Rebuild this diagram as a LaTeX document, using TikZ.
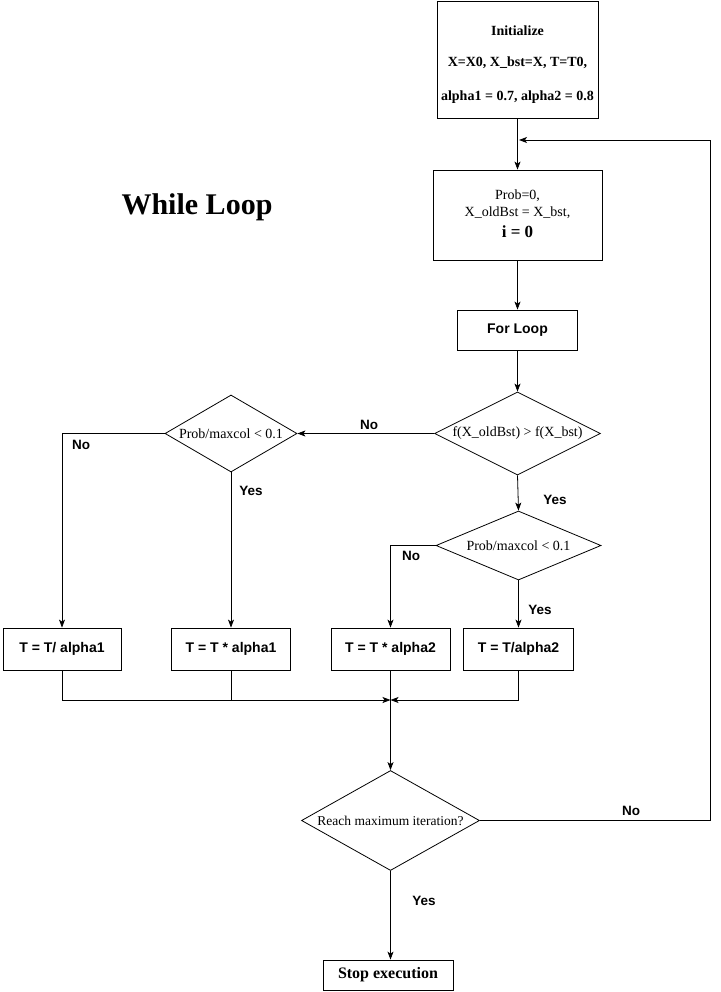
\documentclass[tikz,border=0pt]{standalone}
\usepackage{fontspec}
\setmainfont{Liberation Serif}
\setsansfont{Liberation Sans}
\usetikzlibrary{shapes.geometric,arrows.meta}
\begin{document}
\begin{tikzpicture}[x=1pt,y=-1pt, line width=0.8pt,
  box/.style={draw, inner sep=0pt, align=center},
  dia/.style={draw, diamond, inner sep=0pt},
  arr/.style={-{Stealth[length=8pt,width=6pt,inset=2pt]}},
  lbl/.style={font=\sffamily\bfseries\fontsize{13.5}{15}\selectfont},
  boxtxt/.style={font=\sffamily\bfseries\fontsize{14}{16}\selectfont},
  sertxt/.style={font=\fontsize{14}{16}\selectfont},
  serbold/.style={font=\bfseries\fontsize{14}{16}\selectfont}
]
\useasboundingbox (0,0) rectangle (720,992);

% top boxes
\node[box, minimum width=161pt, minimum height=117pt] (init) at (517.5,59.5) {};
\node[serbold] (initA) at (517.5,31) {Initialize};
\node[serbold] (initB) at (517.5,63) {X=X0, X\_bst=X, T=T0,};
\node[serbold] (initC) at (517.5,97) {alpha1 = 0.7, alpha2 = 0.8};

\node[box, minimum width=169pt, minimum height=90pt] (prep) at (517.5,215) {};
\node[sertxt] (prepA) at (517.5,196) {Prob=0,};
\node[sertxt] (prepB) at (517.5,213) {X\_oldBst = X\_bst,};
\node[font=\bfseries\fontsize{17}{19}\selectfont] (prepC) at (517.5,232) {i = 0};

\node[box, minimum width=120pt, minimum height=40pt, boxtxt] (forl) at (517.5,330) {For Loop};

% diamonds
\node[dia, minimum width=166pt, minimum height=83pt] (d1) at (517.5,433.5) {};
\node[sertxt] (d1t) at (d1) {f(X\_oldBst) > f(X\_bst)};
\node[dia, minimum width=132pt, minimum height=77pt] (d2) at (231,433.5) {};
\node[sertxt] (d2t) at (d2) {Prob/maxcol < 0.1};
\node[dia, minimum width=165pt, minimum height=69pt] (d3) at (518.5,545.5) {};
\node[sertxt] (d3t) at (d3) {Prob/maxcol < 0.1};

% T boxes
\node[box, minimum width=118pt, minimum height=42pt, boxtxt] (b1) at (62,649) {T = T/ alpha1};
\node[box, minimum width=119pt, minimum height=42pt, boxtxt] (b2) at (231,649) {T = T * alpha1};
\node[box, minimum width=119pt, minimum height=42pt, boxtxt] (b3) at (390.5,649) {T = T * alpha2};
\node[box, minimum width=110pt, minimum height=42pt, boxtxt] (b4) at (518.5,649) {T = T/alpha2};

\node[dia, minimum width=178pt, minimum height=100pt] (d4) at (390.5,820.5) {};
\node[font=\fontsize{13.5}{15}\selectfont] (d4t) at (d4) {Reach maximum iteration?};

\node[box, minimum width=130pt, minimum height=30pt, font=\bfseries\fontsize{16}{18}\selectfont] (stop) at (388,975) {Stop execution};

\node[font=\bfseries\fontsize{30}{34}\selectfont] (title) at (197,207) {While Loop};

\coordinate (loopin) at (519,140);
\coordinate (loopc1) at (710,820.5);
\coordinate (loopc2) at (710,140);
\coordinate (merge) at (390.5,700);

% connectors
\draw[arr] (init.south) -- (prep.north);
\draw[arr] (d4.east) -- (loopc1) -- (loopc2) -- (loopin);
\draw[arr] (prep.south) -- (forl.north);
\draw[arr] (forl.south) -- (d1.north);
\draw[arr] (d1.west) -- (d2.east);
\draw[arr] (d2.west) -| (b1.north);
\draw[arr] (d2.south) -- (b2.north);
\draw[arr] (d1.south) -- (d3.north);
\draw[arr] (d3.west) -| (b3.north);
\draw[arr] (d3.south) -- (b4.north);
\draw[arr] (b1.south) |- (merge);
\draw (b2.south) -- (b2.south |- merge);
\draw[arr] (b4.south) |- (merge);
\draw[arr] (b3.south) -- (d4.north);
\draw[arr] (d4.south) -- (d4.south |- stop.north);

% labels
\node[lbl] (lNo1) at (369,425) {No};
\node[lbl] (lNo2) at (81,445) {No};
\node[lbl] (lYes1) at (251,491) {Yes};
\node[lbl] (lYes2) at (555,500) {Yes};
\node[lbl] (lNo3) at (411,556) {No};
\node[lbl] (lYes3) at (540,610) {Yes};
\node[lbl] (lNo4) at (631,811) {No};
\node[lbl] (lYes4) at (424,901) {Yes};
\end{tikzpicture}
\end{document}
